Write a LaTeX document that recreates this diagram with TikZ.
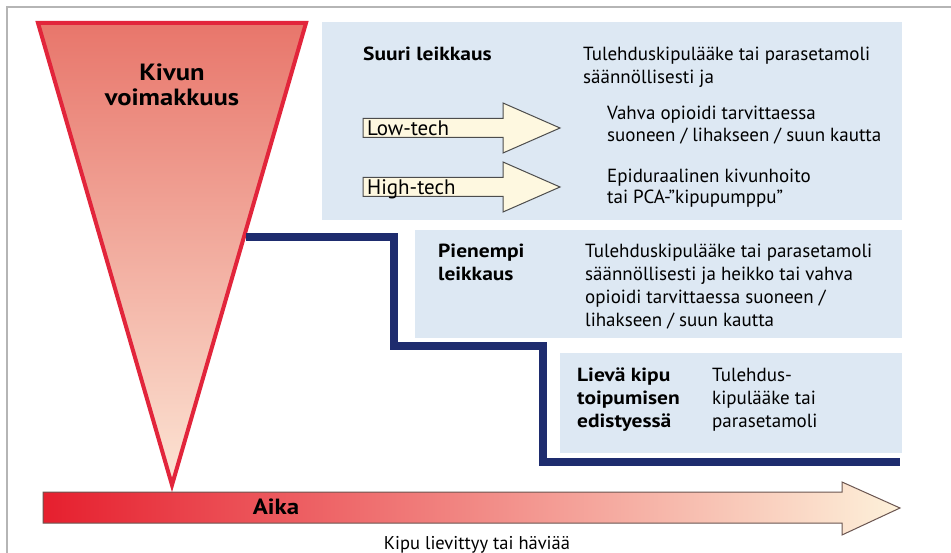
\documentclass[tikz,border=0pt]{standalone}
\usepackage{fontspec}
\setmainfont{PT Sans}[BoldFeatures={FakeStretch=1.13}]
\usetikzlibrary{positioning}
\usetikzlibrary{calc}

\definecolor{painred}{HTML}{E2253B}
\definecolor{paintop}{HTML}{E8766B}
\definecolor{painlow}{HTML}{FCE4D4}
\definecolor{boxblue}{HTML}{DDE8F3}
\definecolor{stepnavy}{HTML}{1E2C6E}
\definecolor{timered}{HTML}{E61F2E}
\definecolor{timepeach}{HTML}{FDF1DA}
\definecolor{timeedge}{HTML}{6A5550}
\definecolor{techfill}{HTML}{FEF8E0}
\definecolor{framegray}{HTML}{B5B5B5}

\begin{document}
\begin{tikzpicture}[x=1pt, y=-1pt,
  infobox/.style={fill=boxblue, anchor=north west, inner sep=0},
  txt/.style={anchor=north west, inner sep=0, align=left, font=\fontsize{19}{23}\selectfont},
  headtxt/.style={txt, font=\fontsize{19}{23}\selectfont\bfseries},
  techarrow/.style={fill=techfill, draw=black!70, line width=1},
  steps/.style={stepnavy, line width=7.5, line join=miter}]

  \useasboundingbox (0,0) rectangle (951,553);
  \draw[framegray, line width=1.2] (7,553) -- (7,7) -- (951,7);

  % laatikot
  \foreach \x/\y/\w/\h/\name in {322/22/580/198/suuri, 415/230/487/108/pienempi, 560/353/342/100/lieva}{
    \node[infobox, minimum width=\w, minimum height=\h] (\name) at (\x,\y) {};
  }

  % aika-nuoli
  \draw[draw=timeedge, line width=1, left color=timered, right color=timepeach]
    (43,492) -- (842,492) -- (842,482) -- (900,508) -- (842,535) -- (842,523) -- (43,523) -- cycle;
  \node[anchor=base, inner sep=0, font=\fontsize{22}{25}\selectfont\bfseries] (aika) at (276,514) {Aika};
  \node[anchor=base, inner sep=0, font=\fontsize{18.5}{23}\selectfont] (haviaa) at (477,549) {Kipu lievittyy tai häviää};

  % kolmio
  \draw[draw=painred, line width=4, line join=miter, top color=paintop, bottom color=painlow]
    (38,23) -- (306,23) -- (172,485) -- cycle;
  \node[anchor=north, inner sep=0, align=center, font=\fontsize{23.5}{25.5}\selectfont\bfseries] (voima) at (172,62) {\strut Kivun\\voimakkuus};

  % porras
  \coordinate (stepstart) at (246,237);
  \coordinate (stepend) at (900,462);
  \draw[steps] (stepstart) -| (394,346) -| (543,462) -- (stepend);

  % low / high
  \foreach \y/\txt/\name in {128/Low-tech/low, 187/High-tech/high}{
    \draw[techarrow] (363,\y-9.5) -- (503,\y-9.5) -- (503,\y-25) -- (560,\y) -- (503,\y+25) -- (503,\y+9.5) -- (363,\y+9.5) -- cycle;
    \node[anchor=base west, inner sep=0, font=\fontsize{21}{23}\selectfont] (\name) at (367,\y+8) {\txt};
  }

  \node[headtxt] (suurih) at (363,44) {\strut Suuri leikkaus};
  \node[txt] (suurit) at (583,44) {\strut Tulehduskipulääke tai parasetamoli\\säännöllisesti ja};
  \node[txt, font=\fontsize{19}{22}\selectfont] (lowt) at (607,104) {\strut Vahva opioidi tarvittaessa\\suoneen / lihakseen / suun kautta};
  \node[txt, font=\fontsize{19}{21}\selectfont] (hight) at (607,168) {\strut Epiduraalinen kivunhoito\\tai PCA-"kipupumppu"};

  \node[headtxt] (pienempih) at (438,241) {\strut Pienempi\\leikkaus};
  \node[txt] (pienempit) at (585,241) {\strut Tulehduskipulääke tai parasetamoli\\säännöllisesti ja heikko tai vahva\\opioidi tarvittaessa suoneen /\\lihakseen / suun kautta};

  \node[headtxt] (lievah) at (577,365) {\strut Lievä kipu\\toipumisen\\edistyessä};
  \node[txt] (lievat) at (712,365) {\strut Tulehdus-\\kipulääke tai\\parasetamoli};
\end{tikzpicture}
\end{document}
